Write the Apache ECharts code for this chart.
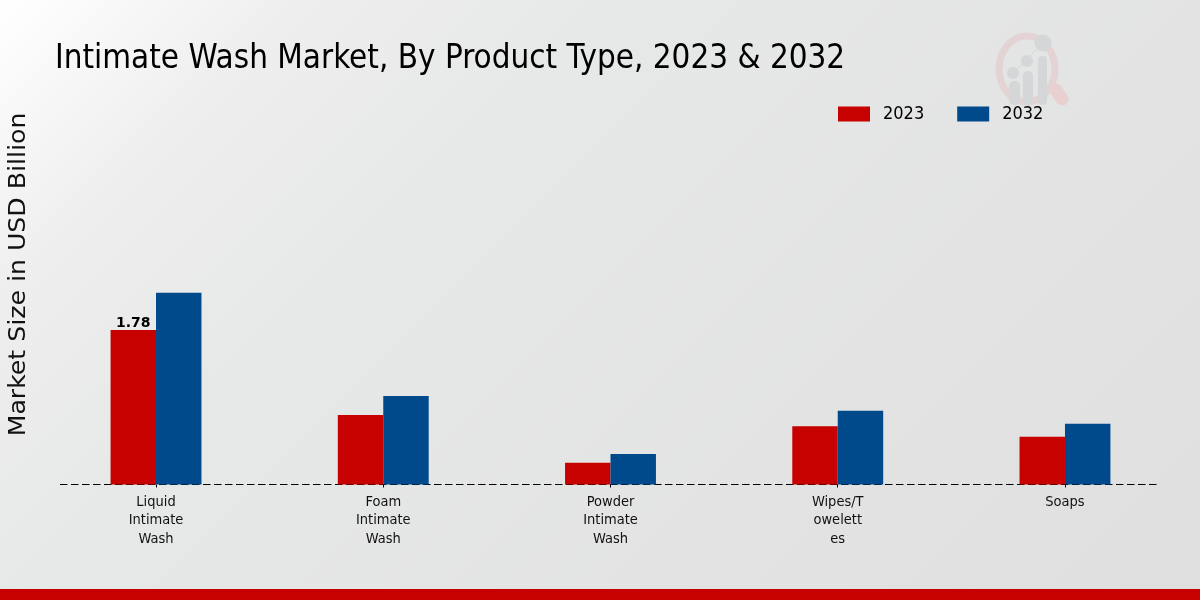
<!DOCTYPE html>
<html>
<head>
<meta charset="utf-8">
<style>
  html, body { margin: 0; padding: 0; }
  #main { width: 1200px; height: 600px; }
</style>
<script src="https://cdn.jsdelivr.net/npm/echarts@6/dist/echarts.min.js"></script>
</head>
<body>
<div id="main"></div>
<script>
// values
const categories = ['Liquid\nIntimate\nWash', 'Foam\nIntimate\nWash', 'Powder\nIntimate\nWash', 'Wipes/T\nowelett\nes', 'Soaps'];
const values2023 = [1.78, 0.80, 0.25, 0.67, 0.55];
const values2032 = [2.21, 1.02, 0.35, 0.85, 0.70];
const seriesNames = ['2023', '2032'];
const labelledIndex = 0;

const narrow = '"DejaVu Sans Condensed", "Liberation Sans Narrow", sans-serif';
const red = '#c70000';
const blue = '#004a8c';
const logoGrey = '#d4d6d8';

const myChart = echarts.init(document.getElementById('main'), null, { renderer: 'canvas' });

myChart.setOption({
  animation: false,
  // global coords so the gradient runs at a true 45deg
  backgroundColor: new echarts.graphic.LinearGradient(0, 0, 900, 900, [
    { offset: 0, color: '#ffffff' },
    { offset: 0.17, color: '#eeeeee' },
    { offset: 0.33, color: '#e7e8e8' },
    { offset: 1, color: '#dfdfdf' }
  ], true),
  title: {
    text: 'Intimate Wash Market, By Product Type, 2023 & 2032',
    left: 50,
    top: 38,
    textStyle: { fontFamily: narrow, fontSize: 32.9, fontWeight: 'normal', color: '#000' }
  },
  legend: {
    left: 833,
    top: 100,
    itemWidth: 32,
    itemHeight: 15,
    itemGap: 33,
    icon: 'rect',
    textStyle: { fontFamily: narrow, fontSize: 18, color: '#000', padding: [0, 0, 0, 8] },
    data: seriesNames
  },
  grid: { left: 42.4, right: 21.4, top: 137.3, bottom: 115.5 },
  xAxis: {
    type: 'category',
    data: categories,
    axisLine: { show: false },
    axisTick: { show: true, alignWithLabel: true, length: 3, lineStyle: { color: '#000' } },
    axisLabel: { fontFamily: narrow, fontSize: 14.5, lineHeight: 18.5, color: '#111', margin: 8 }
  },
  yAxis: {
    type: 'value',
    min: 0,
    max: 4,
    show: false
  },
  series: [
    {
      name: seriesNames[0],
      type: 'bar',
      barWidth: '20%',
      barGap: 0,
      itemStyle: { color: red },
      data: values2023.map((v, i) => i === labelledIndex ? {
        value: v,
        label: {
          show: true,
          position: 'top',
          distance: 0,
          fontFamily: 'DejaVu Sans',
          fontSize: 14,
          fontWeight: 'bold',
          color: '#000'
        }
      } : v)
    },
    {
      name: seriesNames[1],
      type: 'bar',
      barWidth: '20%',
      barGap: 0,
      itemStyle: { color: blue },
      data: values2032
    }
  ],
  graphic: [
    // dashed baseline, sits behind the bars
    { type: 'line', z: 1, shape: { x1: 60, y1: 484.5, x2: 1158, y2: 484.5 },
      style: { stroke: '#000', lineWidth: 1.2, lineDash: [7.5, 3.5] } },
    // y axis title, stretched along the text like the reference
    { type: 'text', x: 19, y: 274.5, rotation: Math.PI / 2, scaleX: 1.095,
      style: { text: 'Market Size in USD Billion', fontFamily: 'DejaVu Sans', fontSize: 23,
        fill: '#111', align: 'center', verticalAlign: 'middle' } },
    // footer strip
    { type: 'rect', shape: { x: 0, y: 589, width: 1200, height: 11 }, style: { fill: red } },
    // watermark logo
    { type: 'ellipse', shape: { cx: 1027, cy: 69, rx: 28, ry: 33 },
      style: { fill: 'none', stroke: '#e3d3d4', lineWidth: 7 } },
    { type: 'line', shape: { x1: 1056, y1: 90, x2: 1062, y2: 99 },
      style: { stroke: '#e8d0d1', lineWidth: 13, lineCap: 'round' } },
    { type: 'line', shape: { x1: 1013, y1: 73, x2: 1043, y2: 43 }, style: { stroke: logoGrey, lineWidth: 1 } },
    { type: 'rect', shape: { x: 1009, y: 81, width: 11, height: 24, r: 5 }, style: { fill: logoGrey } },
    { type: 'rect', shape: { x: 1023, y: 71, width: 10, height: 34, r: 5 }, style: { fill: logoGrey } },
    { type: 'rect', shape: { x: 1038, y: 56, width: 9, height: 49, r: 4 }, style: { fill: logoGrey } },
    { type: 'circle', shape: { cx: 1013, cy: 73, r: 6 }, style: { fill: logoGrey } },
    { type: 'circle', shape: { cx: 1027, cy: 61, r: 6 }, style: { fill: logoGrey } },
    { type: 'circle', shape: { cx: 1043, cy: 43, r: 8.5 }, style: { fill: logoGrey } }
  ]
});
</script>
</body>
</html>
